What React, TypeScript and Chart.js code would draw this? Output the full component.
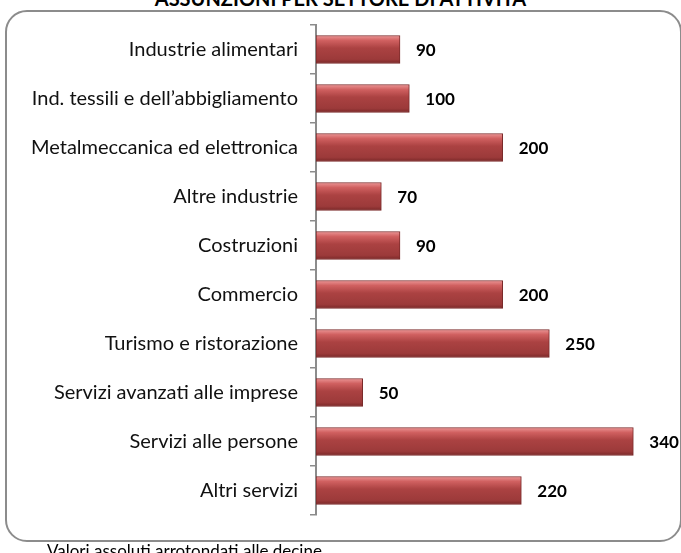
import React, { useEffect, useRef } from "react";
import { Chart, registerables } from "chart.js";

Chart.register(...registerables);

const TITLE = "ASSUNZIONI PER SETTORE DI ATTIVITÀ";
const FOOTNOTE = "Valori assoluti arrotondati alle decine";
const categories = [
  "Industrie alimentari",
  "Ind. tessili e dell’abbigliamento",
  "Metalmeccanica ed elettronica",
  "Altre industrie",
  "Costruzioni",
  "Commercio",
  "Turismo e ristorazione",
  "Servizi avanzati alle imprese",
  "Servizi alle persone",
  "Altri servizi",
];
const values = [90, 100, 200, 70, 90, 200, 250, 50, 340, 220];

const BAR_T = 28;
const FONT = "Lato, 'Open Sans', sans-serif";

const valueLabels = {
  id: "valueLabels",
  afterDatasetsDraw(chart: any) {
    const ctx = chart.ctx;
    const meta = chart.getDatasetMeta(0);
    ctx.save();
    ctx.font = `bold 17px ${FONT}`;
    ctx.fillStyle = "#000";
    ctx.textAlign = "left";
    ctx.textBaseline = "middle";
    meta.data.forEach((el: any, i: number) => {
      ctx.fillText(String(values[i]), el.x + 16, el.y + 1);
    });
    ctx.restore();
  },
};

export default function App() {
  const ref = useRef<HTMLCanvasElement>(null);
  useEffect(() => {
    if (!ref.current) return;
    const chart = new Chart(ref.current, {
      type: "bar",
      data: {
        labels: categories,
        datasets: [
          {
            data: values,
            barThickness: BAR_T,
            borderColor: "#7a2a2a",
            borderWidth: 1,
            borderSkipped: false,
            backgroundColor: (c: any) => {
              const chart = c.chart;
              if (!chart.chartArea || c.dataIndex === undefined || !chart.scales.y) return "#A33C3C";
              const yc = chart.scales.y.getPixelForValue(c.dataIndex);
              const g = chart.ctx.createLinearGradient(0, yc - BAR_T / 2, 0, yc + BAR_T / 2);
              g.addColorStop(0, "#ec9696");
              g.addColorStop(0.18, "#d06060");
              g.addColorStop(0.45, "#ab4242");
              g.addColorStop(0.85, "#9c3a3a");
              g.addColorStop(1, "#7a2828");
              return g;
            },
          },
        ],
      },
      options: {
        indexAxis: "y",
        animation: false,
        responsive: false,
        layout: { padding: { top: 25, bottom: 38, left: 0, right: 29 } },
        plugins: { legend: { display: false }, tooltip: { enabled: false } },
        scales: {
          x: { display: false, min: 0, max: 360 },
          y: {
            afterFit: (s: any) => {
              s.width = 316;
            },
            grid: {
              offset: true,
              drawOnChartArea: false,
              drawTicks: true,
              tickLength: 6,
              color: "#8c8c8c",
              lineWidth: 1.5,
            },
            border: { display: true, color: "#8c8c8c", width: 2 },
            ticks: {
              padding: 12,
              color: "#111",
              font: { family: FONT, size: 20 },
            },
          },
        },
      },
      plugins: [valueLabels],
    });
    return () => chart.destroy();
  }, []);

  return (
    <div style={{ position: "fixed", left: 0, top: 0, width: 681, height: 553, overflow: "hidden", background: "#fff", fontFamily: FONT }}>
      <div
        style={{
          position: "absolute",
          left: 0,
          right: 0,
          top: -14,
          textAlign: "center",
          fontWeight: "bold",
          fontSize: 20,
          lineHeight: "24px",
          color: "#000",
          whiteSpace: "nowrap",
        }}
      >
        {TITLE}
      </div>
      <div
        style={{
          position: "absolute",
          left: 5,
          top: 10,
          width: 673,
          height: 528,
          border: "2px solid #8c8c8c",
          borderRadius: 22,
          boxSizing: "content-box",
        }}
      />
      <canvas ref={ref} width={681} height={553} style={{ position: "absolute", left: 0, top: 0, width: 681, height: 553 }} />
      <div style={{ position: "absolute", left: 47, top: 541, fontSize: 17, lineHeight: "20px", color: "#000", whiteSpace: "nowrap" }}>{FOOTNOTE}</div>
    </div>
  );
}
